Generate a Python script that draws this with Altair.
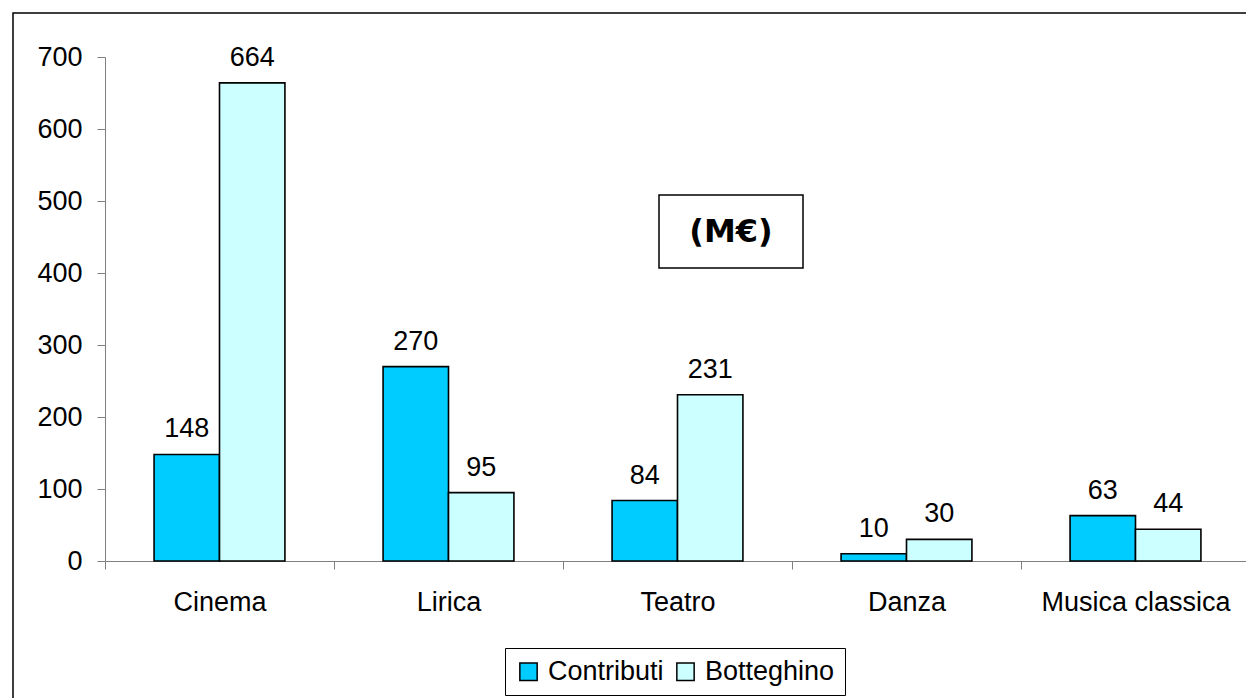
import altair as alt
import pandas as pd

# Data (M€)
categories = ["Cinema", "Lirica", "Teatro", "Danza", "Musica classica"]
contributi = [148, 270, 84, 10, 63]
botteghino = [664, 95, 231, 30, 44]
series = ["Contributi", "Botteghino"]
colors = ["#00CCFF", "#CCFFFF"]
y_ticks = [0, 100, 200, 300, 400, 500, 600, 700]
unit_label = ["(M€)"]

FONT = "Liberation Sans"
FS = 27
AXIS_GRAY = "#808080"

rows = []
for cat, c, b in zip(categories, contributi, botteghino):
    rows.append({"settore": cat, "serie": series[0], "valore": c})
    rows.append({"settore": cat, "serie": series[1], "valore": b})
df = pd.DataFrame(rows)

x_enc = alt.X(
    "settore:N",
    sort=categories,
    scale=alt.Scale(range=[0, 1145], paddingInner=0, paddingOuter=0),
    axis=alt.Axis(
        title=None, labelAngle=0, tickBand="extent", tickSize=8,
        labelPadding=20, labelFont=FONT, labelFontSize=FS, labelColor="black",
        labelLimit=0, domainColor=AXIS_GRAY, tickColor=AXIS_GRAY, grid=False,
    ),
)
xoff_enc = alt.XOffset(
    "serie:N", sort=series, scale=alt.Scale(paddingInner=0, paddingOuter=0.75)
)
y_enc = alt.Y(
    "valore:Q",
    scale=alt.Scale(domain=[0, 700], nice=False),
    axis=alt.Axis(
        title=None, values=y_ticks, grid=False, tickSize=8, labelPadding=15,
        labelFont=FONT, labelFontSize=FS, labelColor="black",
        domainColor=AXIS_GRAY, tickColor=AXIS_GRAY,
    ),
)

base = alt.Chart(df)

bars = base.mark_bar(stroke="black", strokeWidth=1.6).encode(
    x=x_enc,
    xOffset=xoff_enc,
    y=y_enc,
    color=alt.Color(
        "serie:N",
        sort=series,
        scale=alt.Scale(domain=series, range=colors),
        legend=alt.Legend(
            title=None, orient="none", legendX=400, legendY=591,
            direction="horizontal", symbolType="square", symbolSize=300,
            symbolStrokeColor="black", symbolStrokeWidth=1.5,
            labelFont=FONT, labelFontSize=FS, labelColor="black",
            labelOffset=6, columnPadding=8, padding=10, labelLimit=0,
            strokeColor="black", fillColor="white",
        ),
    ),
)

labels = base.mark_text(
    dy=-17, baseline="alphabetic", font=FONT, fontSize=FS, color="black"
).encode(
    x=alt.X("settore:N", sort=categories),
    xOffset=alt.XOffset("serie:N", sort=series),
    y=alt.Y("valore:Q"),
    text=alt.Text("valore:Q"),
)

unit_df = pd.DataFrame({"t": unit_label})

frame = alt.Chart(unit_df).mark_rect(
    fillOpacity=0, stroke="black", strokeWidth=1.5
).encode(
    x=alt.value(-92), x2=alt.value(1300), y=alt.value(-44), y2=alt.value(700)
)

unit_box = alt.Chart(unit_df).mark_rect(
    fill="white", stroke="black", strokeWidth=1.5
).encode(
    x=alt.value(554), x2=alt.value(698), y=alt.value(138), y2=alt.value(211)
)

unit_text = alt.Chart(unit_df).mark_text(
    font="DejaVu Sans", fontWeight="bold", fontSize=32, color="black",
    align="center", baseline="middle",
).encode(x=alt.value(626), y=alt.value(175), text="t:N")

chart = (
    alt.layer(frame, bars, labels, unit_box, unit_text)
    .properties(
        width=1141,
        height=504,
        autosize=alt.AutoSizeParams(type="none"),
        padding={"left": 105, "top": 57, "right": 0, "bottom": 137},
        background="white",
    )
    .configure_view(stroke=None)
)

chart.save("out.html", embed_options={"renderer": "svg", "actions": False})
